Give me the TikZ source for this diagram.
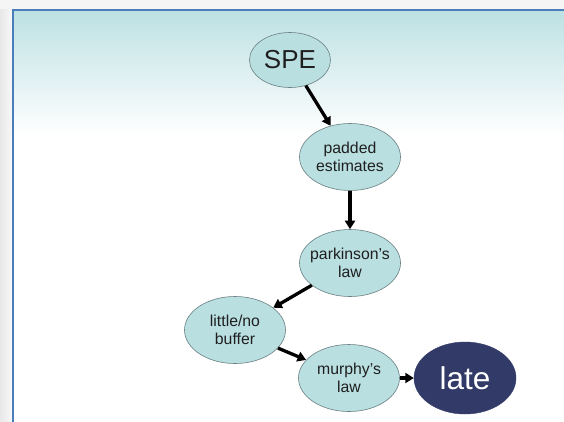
\documentclass[tikz,border=0pt]{standalone}
\usepackage{fontspec}
\setmainfont{Liberation Sans}
\usetikzlibrary{shapes.geometric,arrows.meta}
\definecolor{nodefill}{HTML}{B9DFE1}
\definecolor{nodeline}{HTML}{6A7F81}
\definecolor{latefill}{HTML}{323A68}
\definecolor{framecol}{HTML}{4A7EBB}
\definecolor{topteal}{HTML}{BCE0E3}
\tikzset{
  bubble/.style={ellipse, draw=nodeline, line width=0.6pt, fill=nodefill, inner sep=0pt,
     minimum width=101pt, minimum height=67pt},
  txt/.style={align=center, text=black!88, inner sep=0pt,
     font=\fontsize{15.8}{18.5}\selectfont},
  latebubble/.style={ellipse, draw=latefill, fill=latefill, inner sep=0pt,
     minimum width=102pt, minimum height=72pt, text=white, font=\fontsize{31.5}{34}\selectfont},
  link/.style={-{Triangle[length=8.5pt,width=10pt]}, line width=3.3pt, black}
}
\begin{document}
\begin{tikzpicture}[x=1pt,y=-1pt]
\useasboundingbox (0,0) rectangle (564,421);
% outside area
\fill[black!4] (0,0) rectangle (564,421);
\shade[left color=black!9, right color=black!3] (0,9) rectangle (12,421);
% frame interior
\fill[white] (12,9) rectangle (564,421);
\shade[top color=topteal, bottom color=white] (12,9) rectangle (564,135);
\draw[framecol, line width=2.2pt] (12.6,430) -- (12.6,9.6) -- (570,9.6);
% nodes
\node[bubble, minimum width=81pt, minimum height=55pt, text=black!88, font=\fontsize{26}{28}\selectfont] (spe) at (290,60) {SPE};
\node[bubble, label={[txt]center:padded\\estimates}] (pad) at (350,157) {};
\node[bubble, label={[txt]center:parkinson's\\law}] (park) at (350,263) {};
\node[bubble, label={[txt]center:little/no\\buffer}] (buf) at (235,330) {};
\node[bubble, label={[txt]center:murphy's\\law}] (mur) at (349,378) {};
\node[latebubble] (late) at (465,378) {late};
% connectors
\draw[link] (spe) -- (pad);
\draw[link] (pad) -- (park);
\draw[link] (park) -- (buf);
\draw[link] (buf) -- (mur);
\draw[link] (mur) -- (late);
\end{tikzpicture}
\end{document}
